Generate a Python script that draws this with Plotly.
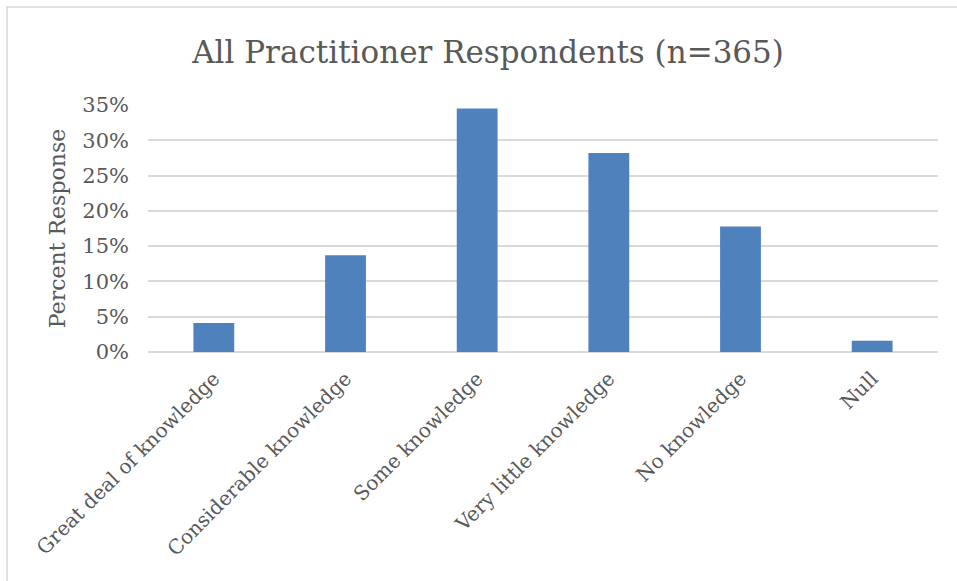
import plotly.graph_objects as go

# --- DATA ---
categories = [
    "Great deal of knowledge",
    "Considerable knowledge",
    "Some knowledge",
    "Very little knowledge",
    "No knowledge",
    "Null",
]
percent_response = [0.041, 0.137, 0.345, 0.282, 0.178, 0.016]
y_ticks = [0, 0.05, 0.10, 0.15, 0.20, 0.25, 0.30, 0.35]
y_tick_labels = ["0%", "5%", "10%", "15%", "20%", "25%", "30%", "35%"]

FONT = "DejaVu Serif"
GREY = "#595959"

fig = go.Figure()

fig.add_trace(go.Bar(
    x=categories,
    y=percent_response,
    marker=dict(color="#4F81BD", line=dict(width=0)),
))

# plot area in pixels: x 148..938, y 105..352
L, R, T, B = 148, 19, 105, 229
W, H = 957, 581
pw, ph = W - L - R, H - T - B

def px_x(px):
    return (px - L) / pw

def px_y(py):
    return (H - B - py) / ph

fig.update_layout(
    width=W,
    height=H,
    margin=dict(l=L, r=R, t=T, b=B, autoexpand=False),
    paper_bgcolor="white",
    plot_bgcolor="white",
    showlegend=False,
    bargap=0.69,
    title=dict(
        text="All Practitioner Respondents (n=365)",
        x=0.51,
        xanchor="center",
        y=1 - 52 / H,
        yanchor="middle",
        font=dict(family=FONT, size=31, color=GREY),
    ),
    xaxis=dict(
        tickangle=-45,
        tickfont=dict(family=FONT, size=20, color=GREY),
        ticklabelstandoff=10,
        showgrid=False,
        showline=False,
        ticks="",
        automargin=False,
    ),
    yaxis=dict(
        range=[0, 0.35],
        tickvals=y_ticks,
        ticktext=y_tick_labels,
        tickfont=dict(family=FONT, size=21, color=GREY),
        ticklabelstandoff=18,
        gridcolor="#D9D9D9",
        gridwidth=1.5,
        zeroline=True,
        zerolinecolor="#D9D9D9",
        zerolinewidth=1.5,
        ticks="",
        automargin=False,
        title=dict(text="Percent Response", font=dict(family=FONT, size=22, color=GREY), standoff=10),
    ),
    shapes=[
        dict(
            type="rect", xref="paper", yref="paper",
            x0=px_x(7), x1=px_x(970), y0=px_y(600), y1=px_y(7),
            line=dict(color="#D9D9D9", width=1.5), fillcolor="rgba(0,0,0,0)",
            layer="below",
        )
    ],
)

fig.write_html(
    "out.html",
    config={"displayModeBar": False},
    post_script="document.body.style.margin='0';",
)
